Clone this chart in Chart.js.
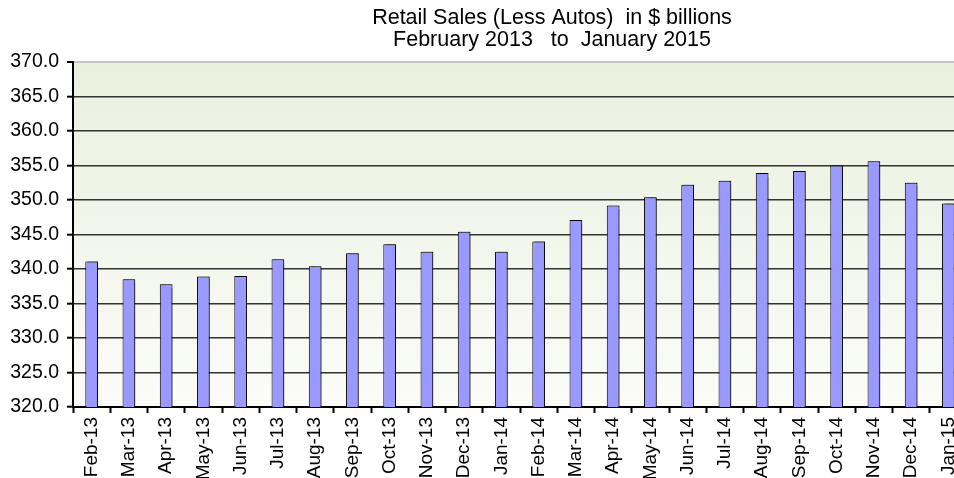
<!DOCTYPE html>
<html lang="en">
<head>
  <meta charset="UTF-8">
  <script src="https://cdn.jsdelivr.net/npm/chart.js"></script>
  <title>Retail Sales (Less Autos)</title>
  <style>
    body {
      margin: 0;
      overflow: hidden;
      background: #fff;
    }

    #chart-box {
      width: 1104px;
      height: 478px;
    }
  </style>
</head>
<body>

  <div id="chart-box">
    <canvas id="salesChart"></canvas>
  </div>

  <script>
    // chart data
    const months = ["Feb-13", "Mar-13", "Apr-13", "May-13", "Jun-13", "Jul-13", "Aug-13", "Sep-13",
      "Oct-13", "Nov-13", "Dec-13", "Jan-14", "Feb-14", "Mar-14", "Apr-14", "May-14",
      "Jun-14", "Jul-14", "Aug-14", "Sep-14", "Oct-14", "Nov-14", "Dec-14", "Jan-15"];
    const sales = [341.1, 338.5, 337.8, 338.9, 339.0, 341.4, 340.4, 342.3,
      343.6, 342.5, 345.4, 342.5, 344.0, 347.1, 349.2, 350.4,
      352.2, 352.8, 353.9, 354.2, 355.0, 355.6, 352.5, 349.5];
    const yMin = 320;
    const yMax = 370;
    const yStep = 5;
    const titleLines = ["Retail Sales (Less Autos)  in $ billions", "February 2013   to  January 2015"];

    const fontFamily = "'Liberation Sans', Arial, sans-serif";

    // light green to white fill behind the plot area
    const plotBackground = {
      id: 'plotBackground',
      beforeDraw(chart) {
        const { ctx, chartArea } = chart;
        const grad = ctx.createLinearGradient(0, chartArea.top, 0, chartArea.bottom);
        grad.addColorStop(0, '#EAF0DE');
        grad.addColorStop(1, '#FBFCF8');
        ctx.save();
        ctx.fillStyle = grad;
        ctx.fillRect(chartArea.left, chartArea.top, chartArea.right - chartArea.left, chartArea.bottom - chartArea.top);
        ctx.restore();
      }
    };

    // two line title, centred on the whole (wide) canvas like the excel one
    const chartTitle = {
      id: 'chartTitle',
      afterDraw(chart) {
        const ctx = chart.ctx;
        ctx.save();
        ctx.fillStyle = '#000';
        ctx.font = "21.5px " + fontFamily;
        ctx.textAlign = 'center';
        ctx.textBaseline = 'middle';
        titleLines.forEach((line, i) => {
          ctx.fillText(line, chart.width / 2, 18 + i * 22);
        });
        ctx.restore();
      }
    };

    // soft shadow on the bars
    const barShadow = {
      id: 'barShadow',
      beforeDatasetsDraw(chart) {
        const ctx = chart.ctx;
        ctx.save();
        ctx.shadowColor = 'rgba(0, 0, 0, 0.45)';
        ctx.shadowBlur = 1.5;
        ctx.shadowOffsetX = 2;
        ctx.shadowOffsetY = -1;
      },
      afterDatasetsDraw(chart) {
        chart.ctx.restore();
      }
    };

    new Chart(document.getElementById('salesChart'), {
      type: 'bar',
      data: {
        labels: months,
        datasets: [{
          label: 'Retail Sales',
          data: sales,
          backgroundColor: '#9999FF',
          borderColor: '#000000',
          borderWidth: 1,
          borderSkipped: 'bottom',
          barPercentage: 0.34,
          categoryPercentage: 1.0
        }]
      },
      options: {
        responsive: true,
        maintainAspectRatio: false,
        animation: false,
        layout: {
          padding: { left: 0, right: 137, top: 62, bottom: 0 }
        },
        plugins: {
          legend: { display: false },
          tooltip: { enabled: false },
          title: { display: false }
        },
        scales: {
          x: {
            offset: true,
            grid: {
              display: true,
              offset: true,
              drawOnChartArea: false,
              drawTicks: true,
              tickLength: 6,
              tickWidth: 2,
              tickColor: '#000'
            },
            border: { display: true, color: '#000', width: 2 },
            ticks: {
              autoSkip: false,
              minRotation: 90,
              maxRotation: 90,
              padding: 4,
              color: '#000',
              font: { family: fontFamily, size: 19 }
            },
            afterFit(scale) {
              scale.height = 71;
            }
          },
          y: {
            min: yMin,
            max: yMax,
            grid: {
              color: (c) => c.tick && c.tick.value === yMax ? '#C4C4C4' : '#333333',
              lineWidth: (c) => c.tick && c.tick.value === yMax ? 2 : 1.4,
              tickLength: 6,
              tickColor: '#000',
              tickWidth: 2
            },
            border: { display: true, color: '#000', width: 2 },
            ticks: {
              stepSize: yStep,
              padding: 8,
              color: '#000',
              font: { family: fontFamily, size: 19.5 },
              callback: (v) => v.toFixed(1)
            },
            afterFit(scale) {
              scale.width = 73;
            }
          }
        }
      },
      plugins: [plotBackground, chartTitle, barShadow]
    });
  </script>

</body>
</html>
